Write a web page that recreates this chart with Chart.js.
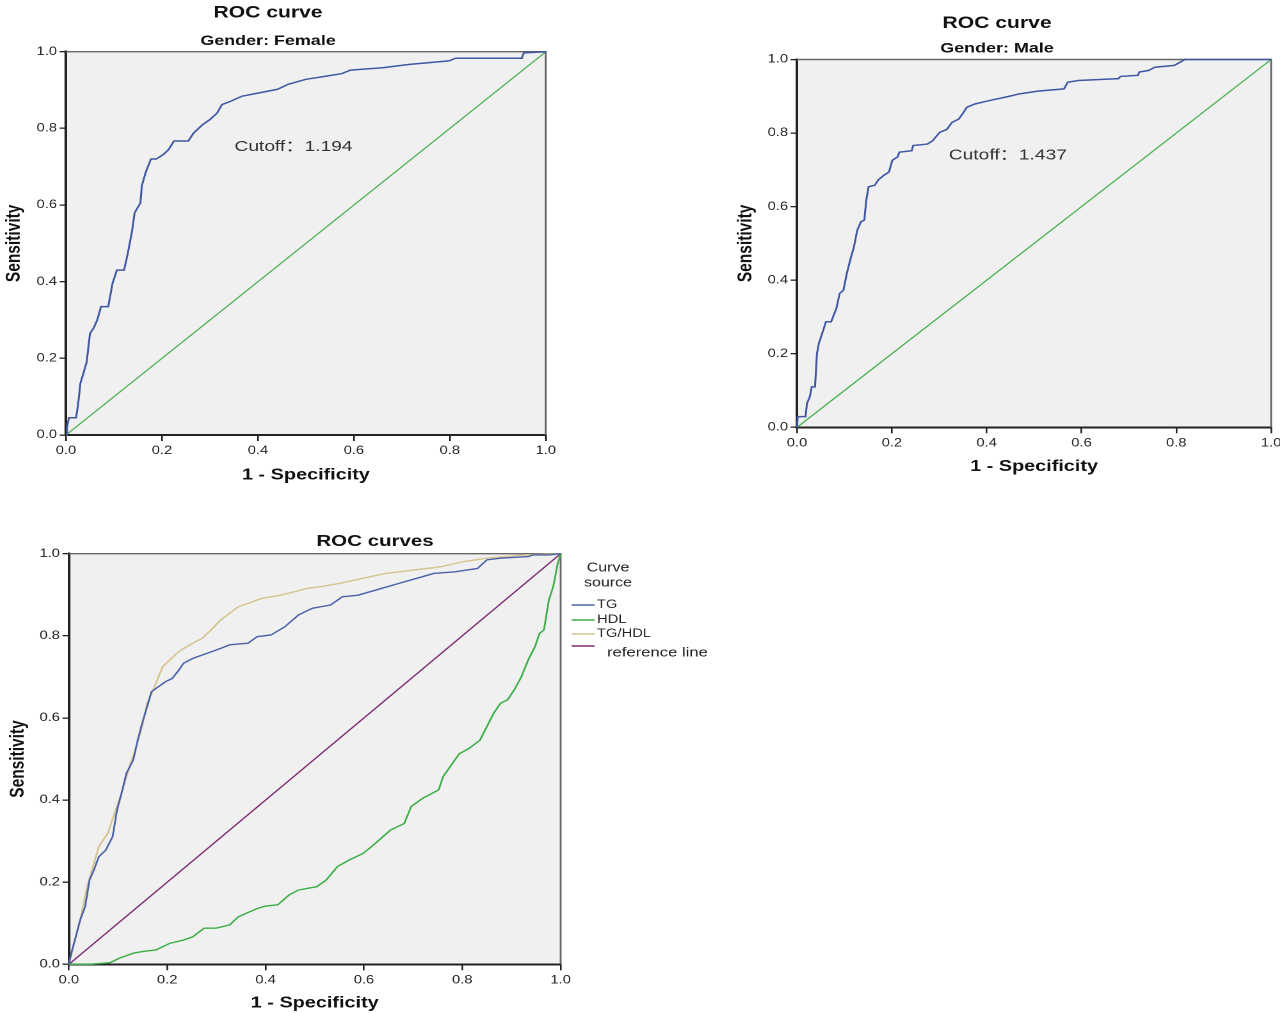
<!DOCTYPE html>
<html>
<head>
<meta charset="utf-8">
<script src="https://cdn.jsdelivr.net/npm/chart.js@4.4.1/dist/chart.umd.min.js"></script>
<style>
html,body{margin:0;padding:0;background:#fff;width:1280px;height:1013px;overflow:hidden;}
body{position:relative;}
.wrap{position:absolute;transform-origin:0 0;}
canvas{display:block;}
</style>
</head>
<body>
<div class="wrap" id="wf"><canvas id="cf"></canvas></div>
<div class="wrap" id="wm"><canvas id="cm"></canvas></div>
<div class="wrap" id="wb"><canvas id="cb"></canvas></div>
<script>
// ---------- data ----------
const tickValues = [0, 0.2, 0.4, 0.6, 0.8, 1.0];
const tickLabels = ['0.0', '0.2', '0.4', '0.6', '0.8', '1.0'];

const refFPR = [0, 1];
const refTPR = [0, 1];

const femaleFPR = [0,0.002,0.006,0.021,0.025,0.030,0.036,0.043,0.050,0.058,0.065,0.073,0.088,0.097,0.106,0.121,0.129,0.138,0.143,0.155,0.158,0.166,0.177,0.188,0.203,0.214,0.225,0.255,0.266,0.285,0.300,0.315,0.325,0.344,0.367,0.404,0.441,0.463,0.500,0.541,0.575,0.593,0.660,0.716,0.798,0.812,0.950,0.954,1.0];
const femaleTPR = [0,0.020,0.045,0.045,0.078,0.135,0.160,0.190,0.265,0.280,0.300,0.335,0.335,0.396,0.430,0.430,0.475,0.535,0.580,0.605,0.650,0.685,0.720,0.720,0.732,0.745,0.767,0.767,0.788,0.810,0.823,0.840,0.862,0.871,0.884,0.893,0.902,0.915,0.928,0.936,0.943,0.952,0.958,0.967,0.976,0.983,0.983,0.997,1.0];

const maleFPR = [0,0.0015,0.018,0.021,0.027,0.031,0.038,0.042,0.046,0.053,0.061,0.072,0.079,0.083,0.090,0.098,0.105,0.112,0.120,0.127,0.135,0.142,0.146,0.151,0.164,0.171,0.183,0.194,0.201,0.212,0.216,0.242,0.245,0.275,0.286,0.301,0.316,0.327,0.341,0.349,0.358,0.375,0.408,0.441,0.471,0.508,0.563,0.571,0.593,0.678,0.682,0.719,0.722,0.741,0.755,0.796,0.818,1.0];
const maleTPR = [0,0.029,0.029,0.065,0.083,0.110,0.110,0.200,0.228,0.255,0.287,0.287,0.310,0.323,0.364,0.373,0.418,0.454,0.490,0.536,0.559,0.563,0.617,0.654,0.658,0.672,0.685,0.694,0.726,0.735,0.748,0.752,0.766,0.770,0.779,0.802,0.810,0.829,0.838,0.852,0.870,0.879,0.889,0.898,0.907,0.914,0.920,0.938,0.943,0.948,0.954,0.957,0.966,0.970,0.979,0.984,1.0,1.0];

const tgFPR = [0,0.005,0.014,0.023,0.033,0.042,0.051,0.061,0.075,0.089,0.098,0.107,0.117,0.131,0.140,0.149,0.159,0.168,0.182,0.196,0.210,0.224,0.233,0.252,0.280,0.308,0.327,0.364,0.383,0.411,0.439,0.467,0.495,0.532,0.556,0.588,0.626,0.672,0.719,0.742,0.785,0.831,0.850,0.878,0.934,0.943,0.976,1.0];
const tgTPR = [0,0.027,0.067,0.108,0.140,0.205,0.230,0.262,0.278,0.311,0.376,0.416,0.465,0.498,0.546,0.587,0.627,0.664,0.676,0.688,0.696,0.717,0.733,0.745,0.757,0.769,0.778,0.782,0.798,0.802,0.822,0.851,0.867,0.875,0.895,0.899,0.912,0.928,0.944,0.952,0.956,0.964,0.985,0.989,0.993,0.997,0.997,1.0];

const hdlFPR = [0,0.042,0.084,0.103,0.131,0.149,0.177,0.205,0.233,0.252,0.275,0.299,0.327,0.345,0.383,0.401,0.425,0.448,0.467,0.504,0.523,0.546,0.570,0.598,0.616,0.635,0.654,0.682,0.696,0.719,0.752,0.761,0.775,0.794,0.813,0.836,0.850,0.864,0.878,0.892,0.906,0.920,0.934,0.948,0.957,0.966,0.976,0.985,0.994,1.0];
const hdlTPR = [0,0.0,0.004,0.015,0.027,0.031,0.035,0.051,0.059,0.067,0.088,0.088,0.096,0.116,0.136,0.142,0.145,0.169,0.181,0.189,0.205,0.238,0.254,0.270,0.287,0.307,0.327,0.343,0.384,0.404,0.425,0.457,0.481,0.513,0.525,0.546,0.579,0.612,0.636,0.644,0.669,0.700,0.741,0.774,0.806,0.814,0.887,0.920,0.976,1.0];

const tghdlFPR = [0,0.009,0.023,0.037,0.047,0.061,0.079,0.093,0.107,0.121,0.135,0.149,0.159,0.173,0.182,0.191,0.205,0.219,0.233,0.252,0.271,0.289,0.308,0.327,0.345,0.364,0.392,0.430,0.458,0.486,0.514,0.551,0.598,0.644,0.700,0.756,0.803,0.850,0.925,1.0];
const tghdlTPR = [0,0.043,0.108,0.189,0.230,0.287,0.319,0.368,0.416,0.473,0.522,0.579,0.635,0.672,0.700,0.725,0.741,0.757,0.769,0.782,0.794,0.814,0.838,0.855,0.871,0.879,0.891,0.899,0.907,0.916,0.920,0.928,0.940,0.952,0.960,0.968,0.981,0.989,0.997,1.0];

const femaleCutoff = { text: 'Cutoff\uFF1A1.194', x: 0.351, y: 0.752 };
const maleCutoff   = { text: 'Cutoff\uFF1A1.437', x: 0.320, y: 0.740 };
const legendTitle = ['Curve', 'source'];

// ---------- helpers ----------
const SX = 1.28; // horizontal stretch of the reference picture
const FONT = "'Liberation Sans', Arial, sans-serif";
const CUT_FONT = "'Liberation Sans', Arial, 'Noto Sans CJK SC', sans-serif";
const toPoints = (xs, ys) => xs.map((x, i) => ({ x: x, y: ys[i] }));

function lineDs(label, xs, ys, color, width) {
  return { label: label, data: toPoints(xs, ys), borderColor: color, backgroundColor: color,
           borderWidth: width, pointRadius: 0, tension: 0, fill: false, clip: 4 };
}

const framePlugin = {
  id: 'plotFrame',
  beforeDraw(chart) {
    const { ctx, chartArea: a } = chart;
    ctx.save();
    ctx.fillStyle = '#f0f0f0';
    ctx.fillRect(a.left, a.top, a.right - a.left, a.bottom - a.top);
    ctx.restore();
  },
  beforeDatasetsDraw(chart) {
    const { ctx, chartArea: a } = chart;
    ctx.save();
    ctx.strokeStyle = '#666';
    ctx.lineWidth = 1.4;
    ctx.beginPath();
    ctx.moveTo(a.left, a.top);
    ctx.lineTo(a.right, a.top);
    ctx.lineTo(a.right, a.bottom);
    ctx.stroke();
    ctx.restore();
  }
};

function cutoffPlugin(c) {
  return {
    id: 'cutoffText',
    afterDatasetsDraw(chart) {
      const ctx = chart.ctx;
      const x = chart.scales.x.getPixelForValue(c.x);
      const y = chart.scales.y.getPixelForValue(c.y);
      ctx.save();
      ctx.font = '15px ' + CUT_FONT;
      ctx.fillStyle = '#333';
      ctx.textAlign = 'left';
      ctx.textBaseline = 'middle';
      ctx.fillText(c.text, x, y);
      ctx.restore();
    }
  };
}

function curveLegendPlugin() {
  const itemLineY = [85, 100, 114, 126];
  const itemTextY = [85, 100, 114, 133];
  const itemTextDx = [28.4, 28.4, 28.4, 36.2];
  const itemFont = [11.5, 11.5, 11.5, 13];
  return {
    id: 'curveLegend',
    afterDraw(chart) {
      const { ctx, chartArea: a } = chart;
      ctx.save();
      ctx.fillStyle = '#222';
      ctx.font = '12.5px ' + FONT;
      ctx.textAlign = 'center';
      ctx.textBaseline = 'middle';
      ctx.fillText(legendTitle[0], a.right + 37, 48);
      ctx.fillText(legendTitle[1], a.right + 37, 63);
      chart.data.datasets.forEach((ds, i) => {
        ctx.strokeStyle = ds.borderColor;
        ctx.lineWidth = 1.5;
        ctx.beginPath();
        ctx.moveTo(a.right + 8.6, itemLineY[i]);
        ctx.lineTo(a.right + 26.5, itemLineY[i]);
        ctx.stroke();
        ctx.font = itemFont[i] + 'px ' + FONT;
        ctx.textAlign = 'left';
        ctx.fillStyle = '#222';
        ctx.fillText(ds.label, a.right + itemTextDx[i], itemTextY[i]);
      });
      ctx.restore();
    }
  };
}

function axes(o) {
  const tickFont = { family: FONT, size: 11.5 };
  const titleFont = { family: FONT, size: 15.5, weight: 'bold' };
  const s = {
    x: {
      type: 'linear', min: 0, max: 1,
      afterBuildTicks: sc => { sc.ticks = tickValues.map(v => ({ value: v })); },
      afterFit: sc => { sc.height = o.xH; },
      ticks: { callback: (v, i) => tickLabels[i], font: tickFont, color: '#222', padding: 3, maxRotation: 0, autoSkip: false },
      grid: { drawOnChartArea: false, drawTicks: true, tickLength: 6, color: '#222', lineWidth: 1.3 },
      border: { display: true, color: '#222', width: 2 },
      title: { display: true, text: '1 - Specificity', font: titleFont, color: '#111', padding: { top: 0, bottom: o.xTitlePad } }
    },
    y: {
      type: 'linear', min: 0, max: 1,
      afterBuildTicks: sc => { sc.ticks = tickValues.map(v => ({ value: v })); },
      afterFit: sc => { sc.width = o.yW; },
      ticks: { callback: (v, i) => tickLabels[i], font: tickFont, color: '#222', padding: 2, autoSkip: false },
      grid: { drawOnChartArea: false, drawTicks: true, tickLength: 5, color: '#222', lineWidth: 1.3 },
      border: { display: true, color: '#222', width: 2 },
      title: { display: true, text: 'Sensitivity', font: titleFont, color: '#111', padding: { top: o.yTitlePad, bottom: 0 } }
    }
  };
  if (o.gapW) {
    s.gap = {
      type: 'linear', position: 'right', display: true,
      afterFit: sc => { sc.width = o.gapW; },
      ticks: { display: false }, grid: { display: false, drawTicks: false },
      border: { display: false }, title: { display: false }
    };
  }
  return s;
}

function makeChart(canvasId, wrapId, L) {
  const wrap = document.getElementById(wrapId);
  wrap.style.left = L.left + 'px';
  wrap.style.top = L.top + 'px';
  wrap.style.transform = 'scaleX(' + SX + ')';
  const cv = document.getElementById(canvasId);
  cv.width = L.W; cv.height = L.H;
  const plugins = [framePlugin].concat(L.extraPlugins || []);
  const pluginOpts = {
    legend: { display: false },
    tooltip: { enabled: false },
    title: { display: true, text: L.title, color: '#111',
             font: { family: FONT, size: L.titleSize, weight: 'bold' },
             padding: { top: L.titlePad[0], bottom: L.titlePad[1] } },
    subtitle: { display: !!L.subtitle, text: L.subtitle || '', color: '#111',
                font: { family: FONT, size: 14, weight: 'bold' },
                padding: { top: (L.subPad || [0,0])[0], bottom: (L.subPad || [0,0])[1] } }
  };
  return new Chart(cv, {
    type: 'line',
    data: { datasets: L.datasets },
    options: {
      responsive: false, animation: false, devicePixelRatio: 2,
      layout: { padding: { left: 0, right: L.padRight, top: 0, bottom: 0 } },
      plugins: pluginOpts,
      scales: axes(L.axes)
    },
    plugins: plugins
  });
}

const BLUE = '#3f58a3';
const GREEN = '#45b04d';

makeChart('cf', 'wf', {
  left: -11, top: 0, W: 446, H: 490, padRight: 10.06,
  title: 'ROC curve', titleSize: 16.5, titlePad: [3.3, 4],
  subtitle: 'Gender: Female', subPad: [5.7, 2.1],
  axes: { yW: 60.16, xH: 55, yTitlePad: 10.5, xTitlePad: 5.7 },
  datasets: [
    lineDs('Female', femaleFPR, femaleTPR, BLUE, 1.5),
    lineDs('Reference', refFPR, refTPR, GREEN, 1.1)
  ],
  extraPlugins: [cutoffPlugin(femaleCutoff)]
});

makeChart('cm', 'wm', {
  left: 722, top: 0, W: 440, H: 480, padRight: 10.3,
  title: 'ROC curve', titleSize: 16.5, titlePad: [13.4, 3],
  subtitle: 'Gender: Male', subPad: [4.1, 2.4],
  axes: { yW: 58.6, xH: 52.7, yTitlePad: 9.3, xTitlePad: 4 },
  datasets: [
    lineDs('Male', maleFPR, maleTPR, BLUE, 1.5),
    lineDs('Reference', refFPR, refTPR, GREEN, 1.1)
  ],
  extraPlugins: [cutoffPlugin(maleCutoff)]
});

makeChart('cb', 'wb', {
  left: 0, top: 520, W: 586, H: 500, padRight: 0,
  title: 'ROC curves', titleSize: 16, titlePad: [12.1, 2.4],
  subtitle: '', subPad: [0, 0],
  axes: { yW: 53.8, xH: 55.7, yTitlePad: 5.1, xTitlePad: 7.7, gapW: 148 },
  datasets: [
    lineDs('TG', tgFPR, tgTPR, '#4a62aa', 1.4),
    lineDs('HDL', hdlFPR, hdlTPR, '#3cae48', 1.4),
    lineDs('TG/HDL', tghdlFPR, tghdlTPR, '#d6c48f', 1.4),
    lineDs('reference line', refFPR, refTPR, '#7d2d74', 1.2)
  ],
  extraPlugins: [curveLegendPlugin()]
});
</script>
</body>
</html>
